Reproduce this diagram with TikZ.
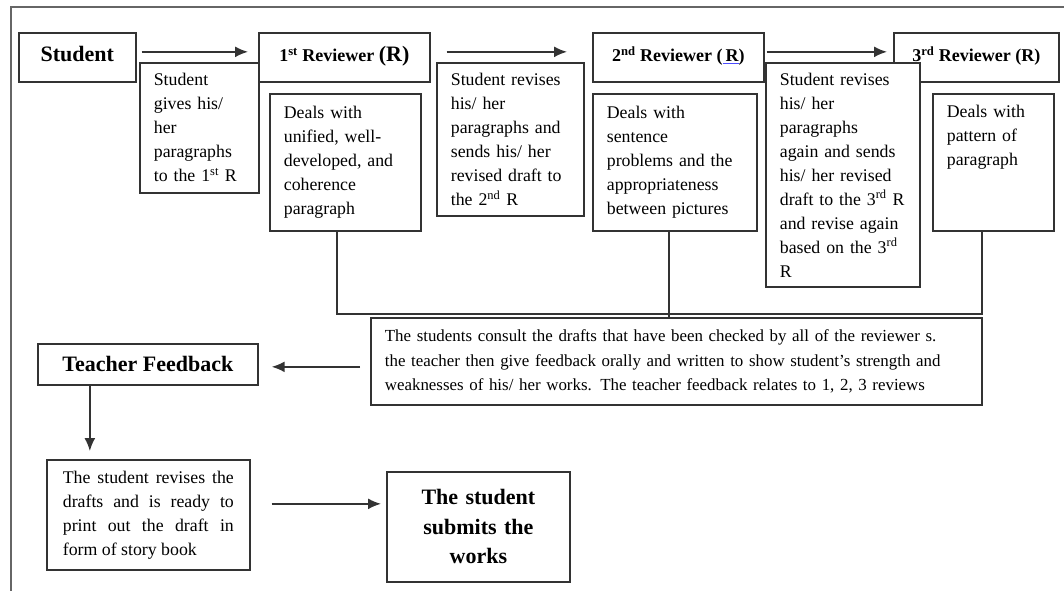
\documentclass[tikz,border=0pt]{standalone}
\usepackage{fontspec}
\setmainfont{Liberation Serif}
\usetikzlibrary{arrows.meta}

\begin{document}
\begin{tikzpicture}[x=1pt, y=-1pt,
  box/.style={draw=black!80, fill=white, line width=1.7pt, anchor=north west, inner xsep=14pt, inner ysep=4pt,
    align=left, font=\fontsize{17.8}{24}\selectfont},
  head/.style={box, align=center, inner xsep=4pt, text depth=7pt, font=\fontsize{18}{22}\selectfont\bfseries},
  link/.style={draw=black!80, line width=1.7pt},
  arr/.style={link, -{Latex[length=13pt,width=11pt]}}]
\useasboundingbox (0,0) rectangle (1064,591);
\draw[black!60, line width=1.5pt] (1064,7) -- (11,7) -- (11,591);

% top row
\node[head, minimum width=117pt, minimum height=49pt, font=\fontsize{22}{26}\selectfont\bfseries] (student) at (18,32) {Student};
\node[head, minimum width=171pt, minimum height=49pt] (rev1) at (258,32)
  {1\textsuperscript{st} Reviewer {\fontsize{22}{26}\selectfont(R)}};
\node[head, minimum width=171pt, minimum height=49pt] (rev2) at (592,32)
  {2\textsuperscript{nd} Reviewer ({\color{blue!70}\underline{\color{black}\,R}})};
\node[head, minimum width=165pt, minimum height=49pt] (rev3) at (893,32)
  {3\textsuperscript{rd} Reviewer (R)};

\node[box, text width=91pt, minimum height=130pt] (give) at (139,62)
  {Student\\gives his/\\her\\paragraphs\\to the 1\textsuperscript{st} R};
\node[box, text width=123pt, minimum height=137pt] (deal1) at (269,93)
  {Deals with\\unified, well-\\developed, and\\coherence\\paragraph};
\node[box, text width=119pt, minimum height=153pt] (send2) at (436,62)
  {Student revises\\his/ her\\paragraphs and\\sends his/ her\\revised draft to\\the 2\textsuperscript{nd} R};
\node[box, text width=136pt, minimum height=137pt] (deal2) at (592,93)
  {Deals with\\sentence\\problems and the\\appropriateness\\between pictures};
\node[box, text width=126pt, minimum height=224pt] (send3) at (765,62)
  {Student revises\\his/ her\\paragraphs\\again and sends\\his/ her revised\\draft to the 3\textsuperscript{rd} R\\and revise again\\based on the 3\textsuperscript{rd}\\R};
\node[box, text width=93pt, minimum height=137pt, text height=20pt, text depth=109pt] (deal3) at (932,93)
  {Deals with\\pattern of\\paragraph};

% bottom part
\node[box, text width=583pt, minimum height=87pt, font=\fontsize{16.9}{24.5}\selectfont] (consult) at (370,317)
  {The students consult the drafts that have been checked by all of the reviewer s.\\
   the teacher then give feedback orally and written to show student’s strength and\\
   weaknesses of his/ her works. The teacher feedback relates to 1, 2, 3 reviews};
\node[head, text depth=, minimum width=220pt, minimum height=41pt, font=\fontsize{22}{26}\selectfont\bfseries] (teach) at (37,343)
  {Teacher Feedback};
\node[box, align=justify, inner xsep=16pt, text width=171pt, minimum height=110pt] (revise) at (46,459)
  {The student revises the\linebreak drafts and is ready to\linebreak print out the draft in\linebreak form of story book};
\node[box, align=center, text width=155pt, minimum height=110pt, font=\fontsize{22}{29.5}\selectfont\bfseries] (submit) at (386,471)
  {The student\\submits the\\works};

\draw[arr] ([xshift=5pt,yshift=5.5pt]student.east) -- ([xshift=-10pt,yshift=5.5pt]rev1.west);
\draw[arr] ([xshift=16pt,yshift=5.5pt]rev1.east) -- ([xshift=-25pt,yshift=5.5pt]rev2.west);
\draw[arr] ([xshift=2pt,yshift=5.5pt]rev2.east) -- ([xshift=-6pt,yshift=5.5pt]rev3.west);
\draw[arr] ([xshift=-10pt,yshift=-2.5pt]consult.west |- teach.east) -- ([xshift=13pt,yshift=-2.5pt]teach.east);
\draw[arr] ([xshift=-58pt]teach.south) -- ([xshift=-58pt,yshift=8pt]teach.south |- revise.north);
\draw[arr] ([xshift=21pt,yshift=11pt]revise.east) -- ([xshift=-5pt,yshift=11pt]submit.west |- revise.east);
\draw[link] ([xshift=-8.5pt]deal1.south) -- ++(0,82) -| ([xshift=-11.5pt]deal3.south);
\draw[link] ([xshift=-6pt]deal2.south) -- ([xshift=-6pt]deal2.south |- consult.north);
\end{tikzpicture}
\end{document}
